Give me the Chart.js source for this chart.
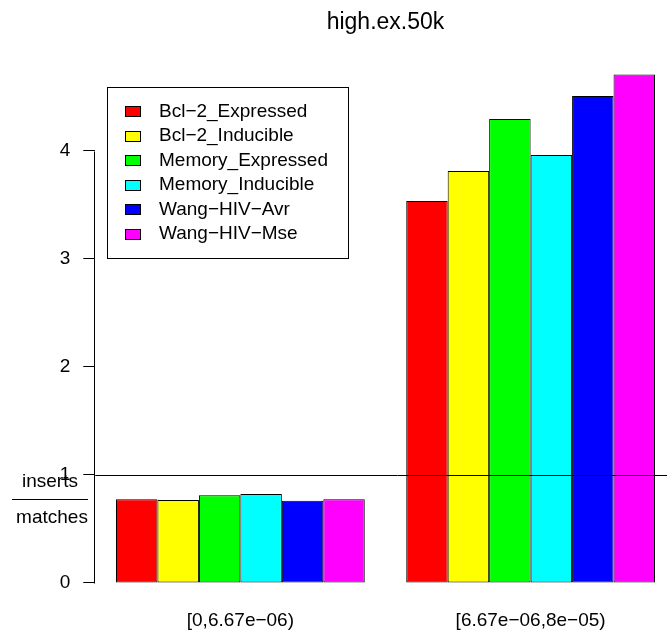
<!DOCTYPE html>
<html lang="en">
<head>
    <meta charset="UTF-8">
    <title>high.ex.50k</title>
    <script src="https://cdn.jsdelivr.net/npm/chart.js"></script>
    <style>
        html, body { margin: 0; padding: 0; overflow: hidden; background: #fff; }
        #wrap { width: 700px; height: 632px; }
    </style>
</head>
<body>
    <div id="wrap"><canvas id="chartInserts" width="700" height="632"></canvas></div>
    <script>
        // data
        const categories = ['[0,6.67e\u221206)', '[6.67e\u221206,8e\u221205)'];
        const seriesNames = ['Bcl\u22122_Expressed', 'Bcl\u22122_Inducible', 'Memory_Expressed',
                             'Memory_Inducible', 'Wang\u2212HIV\u2212Avr', 'Wang\u2212HIV\u2212Mse'];
        const bcl2Expressed = [0.775, 3.537];
        const bcl2Inducible = [0.769, 3.815];
        const memoryExpressed = [0.812, 4.296];
        const memoryInducible = [0.824, 3.963];
        const wangAvr = [0.762, 4.509];
        const wangMse = [0.775, 4.707];
        const yTicks = [0, 1, 2, 3, 4];
        const refLine = 1;

        const seriesValues = [bcl2Expressed, bcl2Inducible, memoryExpressed, memoryInducible, wangAvr, wangMse];
        const colors = ['#ff0000', '#ffff00', '#00ff00', '#00ffff', '#0000ff', '#ff00ff'];
        const FONT = "'Liberation Sans', Arial, Helvetica, sans-serif";

        Chart.defaults.font.family = FONT;
        Chart.defaults.font.size = 19;
        Chart.defaults.color = '#000';

        // axis line, reference line, fraction label and boxed legend (R style)
        const extras = {
            id: 'extras',
            afterDraw(chart) {
                const ctx = chart.ctx, area = chart.chartArea, y = chart.scales.y;
                ctx.save();
                ctx.strokeStyle = '#000';
                ctx.lineWidth = 1;

                const ax = Math.round(area.left) - 0.5;
                ctx.beginPath();
                ctx.moveTo(ax, Math.round(y.getPixelForValue(yTicks[0])) + 0.5);
                ctx.lineTo(ax, Math.round(y.getPixelForValue(yTicks[yTicks.length - 1])) + 0.5);
                ctx.stroke();

                const ry = Math.round(y.getPixelForValue(refLine)) + 0.5;
                ctx.beginPath();
                ctx.moveTo(area.left, ry);
                ctx.lineTo(chart.width, ry);
                ctx.stroke();

                // y label: inserts / matches
                ctx.font = '19px ' + FONT;
                ctx.fillStyle = '#000';
                ctx.textAlign = 'center';
                ctx.textBaseline = 'middle';
                ctx.fillText('inserts', 50, 482);
                ctx.fillText('matches', 52, 518);
                ctx.beginPath();
                ctx.moveTo(12, 499.5);
                ctx.lineTo(88, 499.5);
                ctx.stroke();

                // legend
                ctx.strokeRect(107.5, 87.5, 241, 171);
                ctx.textAlign = 'left';
                chart.data.datasets.forEach((ds, i) => {
                    const cy = 111.7 + i * 24.5;
                    ctx.fillStyle = ds.backgroundColor;
                    ctx.fillRect(125, Math.round(cy - 5.5), 16, 11);
                    ctx.strokeRect(125.5, Math.round(cy - 5.5) + 0.5, 15, 10);
                    ctx.fillStyle = '#000';
                    ctx.fillText(ds.label, 159, cy);
                });
                ctx.restore();
            }
        };

        const ctx = document.getElementById('chartInserts').getContext('2d');
        new Chart(ctx, {
            type: 'bar',
            data: {
                labels: categories,
                datasets: seriesNames.map((name, i) => ({
                    label: name,
                    data: seriesValues[i],
                    backgroundColor: colors[i],
                    borderColor: '#000',
                    borderWidth: 1,
                    borderSkipped: false,
                    categoryPercentage: 6 / 7,
                    barPercentage: 1
                }))
            },
            options: {
                responsive: false,
                animation: false,
                layout: { padding: { left: 0, right: 24.27, top: 0, bottom: 0 } },
                plugins: {
                    legend: { display: false },
                    tooltip: { enabled: false },
                    title: {
                        display: true,
                        text: 'high.ex.50k',
                        fullSize: false,
                        font: { size: 23, weight: 'normal' },
                        padding: { top: 9, bottom: 17.7 }
                    }
                },
                scales: {
                    x: {
                        grid: { display: false },
                        border: { display: false },
                        ticks: { padding: -2, maxRotation: 0 },
                        afterFit(scale) { scale.height = 28.7; }
                    },
                    y: {
                        min: -0.188,
                        max: 4.895,
                        afterBuildTicks(scale) { scale.ticks = yTicks.map(v => ({ value: v })); },
                        grid: { drawOnChartArea: false, drawTicks: true, tickLength: 12, color: '#000' },
                        border: { display: false },
                        ticks: { padding: 13 },
                        afterFit(scale) { scale.width = 95.27; }
                    }
                }
            },
            plugins: [extras]
        });
    </script>
</body>
</html>
